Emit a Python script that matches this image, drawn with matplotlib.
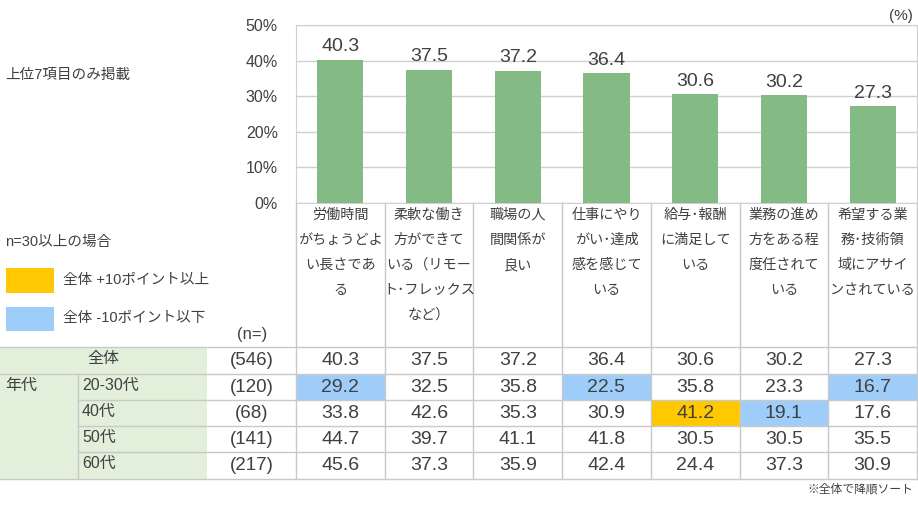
import matplotlib
matplotlib.use('Agg')
import matplotlib.pyplot as plt
from matplotlib.patches import Rectangle

plt.rcParams['font.family'] = ['Liberation Sans', 'Noto Sans CJK JP', 'DejaVu Sans']

# データ
items = ['労働時間\nがちょうどよ\nい長さであ\nる',
         '柔軟な働き\n方ができて\nいる（リモー\nト･フレックス\nなど）',
         '職場の人\n間関係が\n良い',
         '仕事にやり\nがい･達成\n感を感じて\nいる',
         '給与･報酬\nに満足して\nいる',
         '業務の進め\n方をある程\n度任されて\nいる',
         '希望する業\n務･技術領\n域にアサイ\nンされている']
total = [40.3, 37.5, 37.2, 36.4, 30.6, 30.2, 27.3]
groups = ['20-30代', '40代', '50代', '60代']
n_total = 546
n_groups = [120, 68, 141, 217]
vals = [[29.2, 32.5, 35.8, 22.5, 35.8, 23.3, 16.7],
        [33.8, 42.6, 35.3, 30.9, 41.2, 19.1, 17.6],
        [44.7, 39.7, 41.1, 41.8, 30.5, 30.5, 35.5],
        [45.6, 37.3, 35.9, 42.4, 24.4, 37.3, 30.9]]

txt = '#404040'
grid = '#d0d0d0'
W, H = 918, 505
x0, x1 = 296, 917
y_top, y_zero = 25, 203
cw = (x1 - x0) / len(items)

fig = plt.figure(figsize=(W / 100, H / 100), dpi=100)

# 棒グラフ
ax = fig.add_axes([x0 / W, (H - y_zero) / H, (x1 - x0) / W, (y_zero - y_top) / H])
ax.bar(range(len(items)), total, width=0.52, color='#84bb84', zorder=3)
ax.set_xlim(-0.5, len(items) - 0.5)
ax.set_ylim(0, 50)
ax.set_yticks(range(0, 51, 10))
ax.set_yticklabels([f'{v}%' for v in range(0, 51, 10)], fontsize=11.5, color=txt)
ax.tick_params(axis='y', length=0, pad=13)
ax.set_xticks([])
ax.grid(axis='y', color=grid, lw=1, zorder=0)
for s in ax.spines.values():
    s.set_color(grid)
for i, v in enumerate(total):
    ax.annotate(f'{v}', (i, v), xytext=(0, 3), textcoords='offset points',
                ha='center', va='bottom', fontsize=14, color=txt)

# 表・テキスト
ov = fig.add_axes([0, 0, 1, 1])
ov.set_xlim(0, W)
ov.set_ylim(H, 0)
ov.axis('off')

ov.text(5, 75, '上位7項目のみ掲載', fontsize=10.5, color=txt, va='center')
ov.text(5, 242, 'n=30以上の場合', fontsize=10.5, color=txt, va='center')
ov.add_patch(Rectangle((6, 268), 48, 25, color='#ffc800', lw=0))
ov.text(63, 280, '全体 +10ポイント以上', fontsize=10.5, color=txt, va='center')
ov.add_patch(Rectangle((6, 307), 48, 24, color='#9fcdfa', lw=0))
ov.text(63, 318, '全体 -10ポイント以下', fontsize=10.5, color=txt, va='center')
ov.text(252, 334, '(n=)', fontsize=12, color=txt, va='center', ha='center')
ov.text(913, 16, '(%)', fontsize=11, color=txt, va='center', ha='right')
ov.text(913, 490, '※全体で降順ソート', fontsize=8.5, color=txt, va='center', ha='right')

# 見出し
for i, lab in enumerate(items):
    cx = x0 + (i + 0.5) * cw
    for k, line in enumerate(lab.split('\n')):
        ov.text(cx, 215 + k * 25, line, fontsize=10.2, color=txt, ha='center', va='center')

row_y = [347, 374, 400, 426, 452, 479]
green = '#e2efda'
ov.add_patch(Rectangle((0, row_y[0]), 207, row_y[-1] - row_y[0], color=green, lw=0))

# 色付けセル
for r, row in enumerate(vals):
    if n_groups[r] < 30:
        continue
    for i, v in enumerate(row):
        d = v - total[i]
        c = '#ffc800' if d >= 10 else ('#9fcdfa' if d <= -10 else None)
        if c:
            ov.add_patch(Rectangle((x0 + i * cw, row_y[r + 1]), cw, row_y[r + 2] - row_y[r + 1],
                                   color=c, lw=0))

# 罫線
lc = '#c8c8c8'
for i in range(len(items) + 1):
    ov.plot([x0 + i * cw] * 2, [y_zero, row_y[-1]], color=lc, lw=1)
ov.plot([0, x1], [row_y[0]] * 2, color=lc, lw=1)
ov.plot([0, x1], [row_y[1]] * 2, color=lc, lw=1)
for y in row_y[2:-1]:
    ov.plot([78, x1], [y, y], color=lc, lw=1)
ov.plot([0, x1], [row_y[-1]] * 2, color=lc, lw=1)
ov.plot([78, 78], [row_y[1], row_y[-1]], color=lc, lw=1)

# 全体の行
cy = (row_y[0] + row_y[1]) / 2
ov.text(103, cy - 2, '全体', fontsize=11.5, color=txt, ha='center', va='center')
ov.text(252, cy, f'({n_total})', fontsize=13.5, color=txt, ha='center', va='center')
for i, v in enumerate(total):
    ov.text(x0 + (i + 0.5) * cw, cy, f'{v}', fontsize=14, color=txt, ha='center', va='center')

ov.text(5, (row_y[1] + row_y[2]) / 2 - 2, '年代', fontsize=11.5, color=txt, va='center')
for r, g in enumerate(groups):
    cy = (row_y[r + 1] + row_y[r + 2]) / 2
    ov.text(82, cy - 2, g, fontsize=11.5, color=txt, va='center')
    ov.text(252, cy, f'({n_groups[r]})', fontsize=13.5, color=txt, ha='center', va='center')
    for i, v in enumerate(vals[r]):
        ov.text(x0 + (i + 0.5) * cw, cy, f'{v}', fontsize=14, color=txt, ha='center', va='center')

fig.savefig('out.png', dpi=100)
